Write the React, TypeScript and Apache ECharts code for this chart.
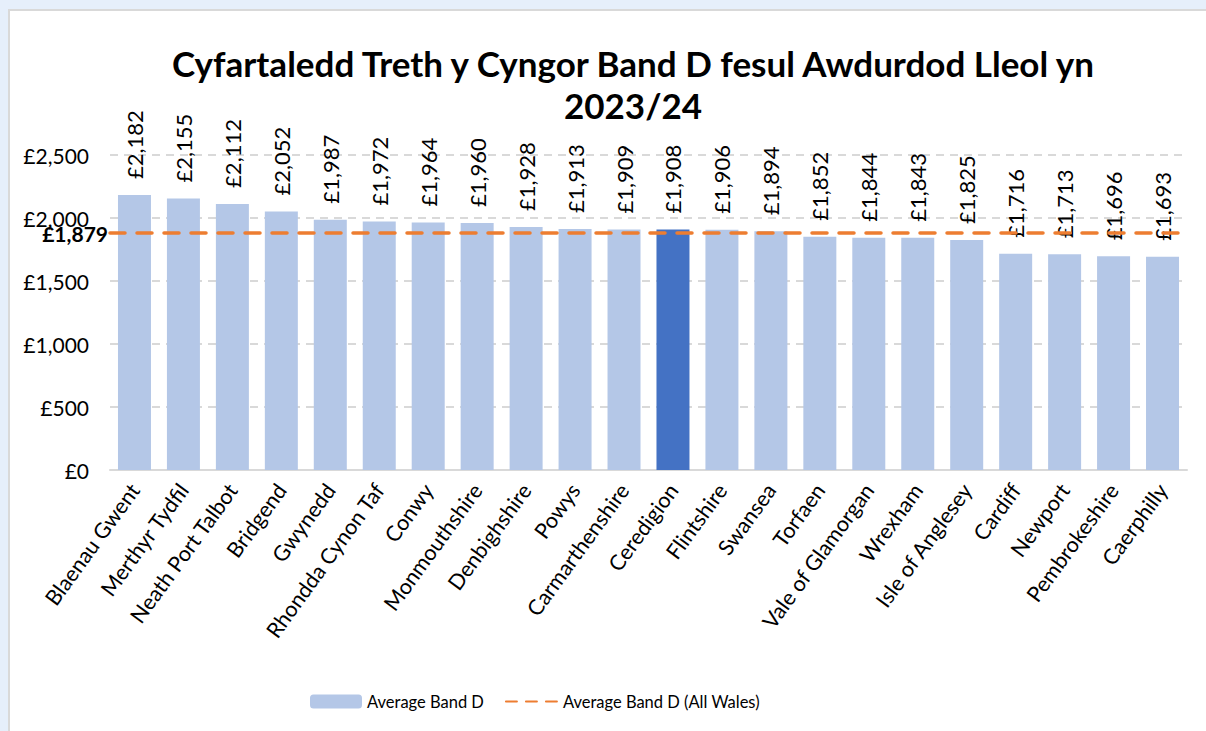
import React, { useEffect, useRef } from "react";
import * as echarts from "echarts";

const categories: string[] = [
  "Blaenau Gwent", "Merthyr Tydfil", "Neath Port Talbot", "Bridgend", "Gwynedd",
  "Rhondda Cynon Taf", "Conwy", "Monmouthshire", "Denbighshire", "Powys",
  "Carmarthenshire", "Ceredigion", "Flintshire", "Swansea", "Torfaen",
  "Vale of Glamorgan", "Wrexham", "Isle of Anglesey", "Cardiff", "Newport",
  "Pembrokeshire", "Caerphilly",
];
const bandD: number[] = [
  2182, 2155, 2112, 2052, 1987, 1972, 1964, 1960, 1928, 1913, 1909,
  1908, 1906, 1894, 1852, 1844, 1843, 1825, 1716, 1713, 1696, 1693,
];
const allWalesAverage = 1879;
const highlighted = "Ceredigion";
const yTicks = { min: 0, max: 2500, interval: 500 };

const FONT = "Lato";
const money = (v: number) => "£" + Math.round(v).toLocaleString("en-GB");

export default function App() {
  const ref = useRef<HTMLDivElement>(null);
  useEffect(() => {
    if (!ref.current) return;
    const chart = echarts.init(ref.current, undefined, { renderer: "svg" });
    chart.setOption({
      animation: false,
      textStyle: { fontFamily: FONT },
      title: {
        text: "Cyfartaledd Treth y Cyngor Band D fesul Awdurdod Lleol yn\n2023/24",
        left: 628,
        textAlign: "center",
        top: 37,
        textStyle: { fontFamily: FONT, fontWeight: "bold", fontSize: 35, color: "#000", lineHeight: 42 },
      },
      legend: {
        left: 305,
        top: 688,
        itemWidth: 52,
        itemHeight: 14,
        itemGap: 21,
        textStyle: { fontFamily: FONT, fontSize: 16.5, color: "#000" },
        data: [
          { name: "Average Band D" },
          { name: "Average Band D (All Wales)", itemStyle: { color: "rgba(0,0,0,0)", borderWidth: 0, borderColor: "rgba(0,0,0,0)" } },
        ],
      },
      grid: { left: 110, right: 19, top: 155, bottom: 261, containLabel: false },
      xAxis: {
        type: "category",
        data: categories,
        axisTick: { show: false },
        axisLine: { lineStyle: { color: "#d9d9d9", width: 2 } },
        axisLabel: { rotate: 54, fontSize: 21.5, color: "#000", margin: 16, interval: 0, fontFamily: FONT },
      },
      yAxis: {
        type: "value",
        min: yTicks.min,
        max: yTicks.max,
        interval: yTicks.interval,
        axisLine: { show: false },
        axisTick: { show: false },
        splitLine: { lineStyle: { color: "#d9d9d9", width: 2, type: [8, 6] } },
        axisLabel: { fontSize: 21, color: "#000", margin: 21, formatter: (v: number) => money(v), fontFamily: FONT },
      },
      series: [
        {
          name: "Average Band D",
          type: "bar",
          barWidth: 33,
          itemStyle: { color: "#B4C7E7" },
          data: bandD.map((v, i) => ({
            value: v,
            itemStyle: { color: categories[i] === highlighted ? "#4472C4" : "#B4C7E7" },
          })),
          label: {
            show: true,
            position: "top",
            rotate: 90,
            align: "left",
            verticalAlign: "middle",
            distance: 16,
            fontSize: 22,
            color: "#000",
            fontFamily: FONT,
            formatter: (p: any) => money(p.value),
          },
        },
        {
          name: "Average Band D (All Wales)",
          type: "line",
          symbol: "none",
          data: [],
          lineStyle: { color: "#ED7D31", width: 3.5, type: [11, 9], cap: "round" },
          itemStyle: { color: "rgba(0,0,0,0)", borderWidth: 0, borderColor: "rgba(0,0,0,0)" },
          markLine: {
            silent: true,
            symbol: "none",
            lineStyle: { color: "#ED7D31", width: 3.5, type: [15, 12], cap: "round" },
            label: {
              show: true,
              position: "start",
              distance: 2,
              formatter: () => money(allWalesAverage),
              fontWeight: "bold",
              fontSize: 21,
              color: "#000",
              fontFamily: FONT,
            },
            data: [{ yAxis: allWalesAverage }],
          },
        },
      ],
    });
    return () => chart.dispose();
  }, []);

  return (
    <div style={{ position: "fixed", left: 0, top: 0, width: 1206, height: 731, background: "#E6EFFB", overflow: "hidden" }}>
      <div style={{ position: "absolute", left: 8, top: 9, width: 1300, height: 800, background: "#fff", border: "2px solid #d9d9d9", boxSizing: "border-box" }} />
      <div ref={ref} style={{ position: "absolute", left: 0, top: 0, width: 1206, height: 731 }} />
    </div>
  );
}
